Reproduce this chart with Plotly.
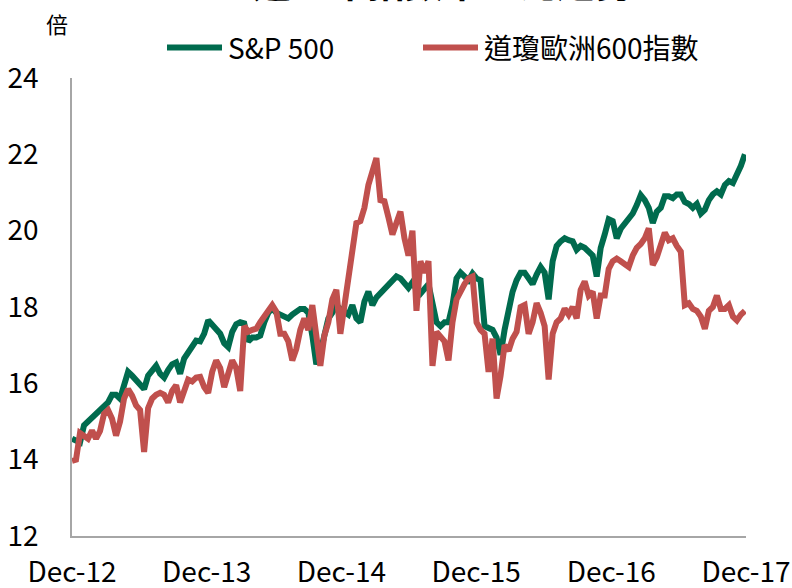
import pandas as pd
import plotly.graph_objects as go

title_text = "近五年指數本益比趨勢"
unit_label = "倍"
series_names = ["S&P 500", "道瓊歐洲600指數"]
start_date = "2012-12-31"
end_date = "2017-12-28"
tick_dates = ["2012-12-31", "2013-12-31", "2014-12-31", "2015-12-31", "2016-12-31", "2017-12-31"]
tick_labels = ["Dec-12", "Dec-13", "Dec-14", "Dec-15", "Dec-16", "Dec-17"]
y_ticks = [12, 14, 16, 18, 20, 22, 24]

sp500_pe = [
    14.55, 14.5, 14.45, 14.9, 15.0, 15.07, 15.2, 15.3, 15.4, 15.5,
    15.7, 15.7, 15.6, 16.0, 16.3, 16.2, 16.1, 16.0, 15.85, 16.2,
    16.35, 16.46, 16.25, 16.15, 16.35, 16.5, 16.55, 16.25, 16.65, 16.8,
    16.95, 17.12, 17.1, 17.3, 17.65, 17.55, 17.4, 17.3, 17.05, 16.95,
    17.35, 17.55, 17.6, 17.57, 17.1, 17.2, 17.2, 17.25, 17.6, 17.85,
    17.96, 17.85, 17.8, 17.75, 17.7, 17.8, 17.9, 17.95, 17.95, 17.85,
    17.25, 16.5, 16.8, 17.3, 17.7, 17.85, 18.05, 17.95, 17.85, 17.8,
    18.05, 17.7, 17.6, 18.14, 18.4, 18.05, 18.25, 18.35, 18.45, 18.57,
    18.67, 18.8, 18.75, 18.6, 18.5, 18.65, 18.45, 18.35, 18.45, 18.6,
    18.1, 17.6, 17.5, 17.6, 17.6, 18.05, 18.75, 18.9, 18.8, 18.7,
    18.88, 18.75, 18.7, 17.5, 17.45, 17.4, 17.2, 16.75, 17.4, 17.9,
    18.4, 18.7, 18.9, 18.9, 18.75, 18.6, 18.85, 19.05, 18.9, 18.2,
    19.2, 19.6, 19.72, 19.8, 19.75, 19.72, 19.5, 19.6, 19.55, 19.45,
    19.35, 18.8, 19.55, 19.9, 20.3, 20.25, 19.8, 20.05, 20.2, 20.3,
    20.45, 20.67, 20.93, 20.8, 20.6, 20.2, 20.5, 20.6, 20.9, 20.9,
    20.85, 20.95, 20.95, 20.75, 20.7, 20.6, 20.7, 20.45, 20.55, 20.8,
    20.95, 21.03, 20.95, 21.2, 21.3, 21.25, 21.45, 21.7, 22.0,
]

stoxx600_pe = [
    13.97, 14.0, 14.7, 14.63, 14.55, 14.76, 14.55, 14.75, 15.2, 15.3,
    15.07, 14.63, 15.0, 15.6, 15.85, 15.68, 15.42, 15.3, 14.2, 15.35,
    15.6, 15.7, 15.75, 15.7, 15.5, 15.8, 15.95, 15.5, 15.86, 16.1,
    16.05, 16.15, 16.17, 15.9, 15.75, 16.3, 16.6, 16.4, 15.9, 16.2,
    16.6, 16.4, 15.8, 17.5, 17.35, 17.4, 17.43, 17.6, 17.75, 17.9,
    18.05, 17.88, 17.3, 17.3, 17.1, 16.6, 16.9, 17.4, 17.7, 17.4,
    18.05, 17.25, 16.46, 17.25, 17.6, 18.2, 18.45, 17.3, 18.0, 18.7,
    19.5, 20.2, 20.25, 20.6, 21.2, 21.55, 21.9, 20.8, 20.77, 20.35,
    19.9, 20.2, 20.5, 19.8, 19.35, 20.0, 17.9, 19.2, 18.9, 19.2,
    16.46, 17.35, 17.2, 17.1, 16.6, 17.6, 18.2, 18.45, 18.6, 18.75,
    18.8, 17.6, 17.4, 17.3, 16.3, 17.17, 15.6, 16.2, 17.0, 16.85,
    17.17, 17.35, 18.0, 18.05, 17.3, 17.6, 18.1, 17.85, 17.5, 16.1,
    17.3, 17.6, 17.7, 17.96, 17.8, 18.0, 17.7, 18.45, 18.67, 18.3,
    18.4, 17.7, 18.3, 18.3, 19.0, 19.2, 19.27, 19.2, 19.1, 19.05,
    19.35, 19.55, 19.65, 19.8, 20.06, 19.1, 19.3, 19.7, 19.95, 19.75,
    19.8, 19.6, 19.45, 18.05, 18.1, 17.95, 17.9, 17.75, 17.43, 17.9,
    18.0, 18.3, 17.95, 17.95, 18.05, 17.75, 17.65, 17.8, 17.9,
]

colors = ["#006B4E", "#C0504D"]
FONT = "Noto Sans CJK TC"

W, H = 792, 588
L, R, T, B = 72, 46, 78, 52
PW, PH = W - L - R, H - T - B


def px(x):
    return (x - L) / PW


def py(y):
    return 1 + (T - y) / PH


dates_sp = pd.date_range(start_date, end_date, periods=len(sp500_pe))
dates_eu = pd.date_range(start_date, end_date, periods=len(stoxx600_pe))

fig = go.Figure()
fig.add_trace(go.Scatter(x=dates_sp, y=sp500_pe, mode="lines", name=series_names[0],
                         line=dict(color=colors[0], width=6)))
fig.add_trace(go.Scatter(x=dates_eu, y=stoxx600_pe, mode="lines", name=series_names[1],
                         line=dict(color=colors[1], width=6)))

# manual legend (line sample + label)
legend_items = [(167, 222, 226), (423, 478, 482)]
shapes = []
annotations = []
for (x0, x1, xt), name, col in zip(legend_items, series_names, colors):
    shapes.append(dict(type="line", xref="paper", yref="paper", x0=px(x0), x1=px(x1),
                       y0=py(47.5), y1=py(47.5), line=dict(color=col, width=6)))
    annotations.append(dict(text=name, xref="paper", yref="paper", x=px(xt), y=py(47),
                            xanchor="left", yanchor="middle", showarrow=False,
                            font=dict(size=28, color="#000000")))

annotations.append(dict(text=unit_label, xref="paper", yref="paper", x=px(57), y=py(23),
                        xanchor="center", yanchor="middle", showarrow=False,
                        font=dict(size=22)))
annotations.append(dict(text="<b>" + title_text + "</b>", xref="paper", yref="paper",
                        x=px(443), y=py(10), xanchor="center", yanchor="bottom",
                        showarrow=False, font=dict(size=38)))

fig.update_layout(
    width=W, height=H,
    margin=dict(l=L, r=R, t=T, b=B, autoexpand=False),
    paper_bgcolor="white", plot_bgcolor="white",
    font=dict(family=FONT, size=28, color="#000000"),
    showlegend=False,
    shapes=shapes,
    annotations=annotations,
    xaxis=dict(range=["2012-12-31", "2017-12-31"], tickvals=tick_dates, ticktext=tick_labels,
               showgrid=False, zeroline=False, showline=True, linecolor="#A6A6A6", linewidth=1.5,
               ticks="", tickfont=dict(size=28), ticklabelstandoff=11, automargin=False),
    yaxis=dict(range=[12, 24], tickvals=y_ticks, showgrid=False, zeroline=False,
               showline=True, linecolor="#A6A6A6", linewidth=1.5, ticks="",
               tickfont=dict(size=28), ticklabelstandoff=26, automargin=False),
)

fig.write_html("out.html", config={"displayModeBar": False},
               post_script="document.body.style.margin='0';")
